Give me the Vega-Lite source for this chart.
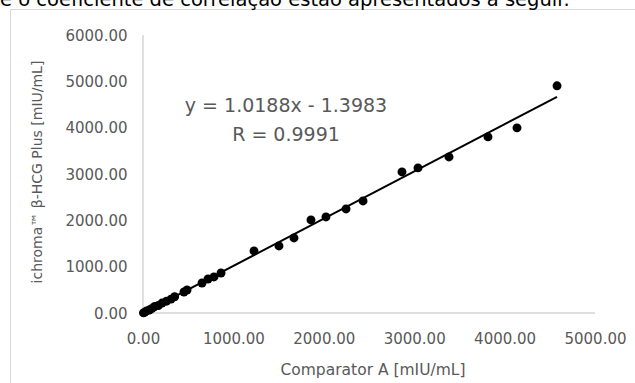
{
  "$schema": "https://vega.github.io/schema/vega-lite/v6.json",
  "width": 625,
  "height": 374,
  "autosize": {"type": "none"},
  "padding": {"left": 10, "top": 9, "right": 0, "bottom": 0},
  "background": "white",
  "config": {
    "view": {"stroke": "#d9d9d9", "strokeWidth": 1},
    "font": "DejaVu Sans"
  },
  "title": {
    "text": "e o coeficiente de correlação estão apresentados a seguir.",
    "anchor": "start",
    "frame": "group",
    "dx": -10,
    "dy": 21,
    "offset": 5,
    "baseline": "alphabetic",
    "fontSize": 19.5,
    "fontWeight": "normal",
    "color": "#000000",
    "font": "DejaVu Sans"
  },
  "datasets": {
    "axes": [
      {"x": 0, "y": 0, "x2": 0, "y2": 6000},
      {"x": 0, "y": 0, "x2": 5000, "y2": 0}
    ],
    "trend": [
      {"x": 0, "y": -1.4},
      {"x": 4580, "y": 4664.7}
    ],
    "points": [
      {"x": 5, "y": 3},
      {"x": 20, "y": 18},
      {"x": 40, "y": 45},
      {"x": 70, "y": 65},
      {"x": 100, "y": 98},
      {"x": 130, "y": 140},
      {"x": 170, "y": 160},
      {"x": 210, "y": 215},
      {"x": 260, "y": 255},
      {"x": 310, "y": 300},
      {"x": 350, "y": 350},
      {"x": 453, "y": 454},
      {"x": 487, "y": 497},
      {"x": 653, "y": 648},
      {"x": 719, "y": 734},
      {"x": 785, "y": 778},
      {"x": 863, "y": 864},
      {"x": 1228, "y": 1339},
      {"x": 1504, "y": 1447},
      {"x": 1670, "y": 1620},
      {"x": 1858, "y": 2009},
      {"x": 2024, "y": 2073},
      {"x": 2246, "y": 2246},
      {"x": 2434, "y": 2419},
      {"x": 2865, "y": 3045},
      {"x": 3042, "y": 3132},
      {"x": 3385, "y": 3369},
      {"x": 3816, "y": 3801},
      {"x": 4137, "y": 3996},
      {"x": 4580, "y": 4903}
    ],
    "eq": [
      {"x": 1582, "y": 4338, "label": "y = 1.0188x - 1.3983"},
      {"x": 1582, "y": 3712, "label": "R = 0.9991"}
    ]
  },
  "layer": [
    {
      "data": {"name": "axes"},
      "mark": {"type": "rule", "color": "#bfbfbf", "strokeWidth": 1},
      "encoding": {
        "x": {
          "field": "x",
          "type": "quantitative",
          "title": "Comparator A [mIU/mL]",
          "scale": {"domain": [-1471.2, 5442.5], "nice": false, "zero": false},
          "axis": {
            "orient": "bottom",
            "offset": -70,
            "values": [0, 1000, 2000, 3000, 4000, 5000],
            "format": ".2f",
            "domain": false,
            "ticks": false,
            "tickSize": 0,
            "grid": false,
            "labelFont": "DejaVu Sans",
            "labelFontSize": 15,
            "labelColor": "#595959",
            "labelPadding": 18,
            "labelOverlap": false,
            "labelFlush": false,
            "titleFont": "DejaVu Sans",
            "titleFontSize": 15.5,
            "titleFontWeight": "normal",
            "titleColor": "#595959",
            "titleBaseline": "alphabetic",
            "titleAlign": "center",
            "titleX": 362.5,
            "titleY": 61
          }
        },
        "y": {
          "field": "y",
          "type": "quantitative",
          "title": "ichroma™ β-HCG Plus [mIU/mL]",
          "scale": {"domain": [-1510.8, 6561.2], "nice": false, "zero": false},
          "axis": {
            "orient": "left",
            "offset": -133,
            "values": [0, 1000, 2000, 3000, 4000, 5000, 6000],
            "format": ".2f",
            "domain": false,
            "ticks": false,
            "tickSize": 0,
            "grid": false,
            "labelFont": "DejaVu Sans",
            "labelFontSize": 15,
            "labelColor": "#595959",
            "labelPadding": 16,
            "labelOverlap": false,
            "labelFlush": false,
            "labelBaseline": "middle",
            "titleFont": "DejaVu Sans",
            "titleFontSize": 14,
            "titleFontWeight": "normal",
            "titleColor": "#595959",
            "titleBaseline": "alphabetic",
            "titleAlign": "center",
            "titleAngle": -90,
            "titleX": -102,
            "titleY": 162.5
          }
        },
        "x2": {"field": "x2"},
        "y2": {"field": "y2"}
      }
    },
    {
      "data": {"name": "trend"},
      "mark": {"type": "line", "color": "#000000", "strokeWidth": 2},
      "encoding": {
        "x": {"field": "x", "type": "quantitative"},
        "y": {"field": "y", "type": "quantitative"}
      }
    },
    {
      "data": {"name": "points"},
      "mark": {"type": "circle", "color": "#000000", "opacity": 1, "size": 80},
      "encoding": {
        "x": {"field": "x", "type": "quantitative"},
        "y": {"field": "y", "type": "quantitative"}
      }
    },
    {
      "data": {"name": "eq"},
      "mark": {"type": "text", "font": "DejaVu Sans", "fontSize": 19, "color": "#595959", "align": "center", "baseline": "alphabetic"},
      "encoding": {
        "x": {"field": "x", "type": "quantitative"},
        "y": {"field": "y", "type": "quantitative"},
        "text": {"field": "label"}
      }
    }
  ]
}
